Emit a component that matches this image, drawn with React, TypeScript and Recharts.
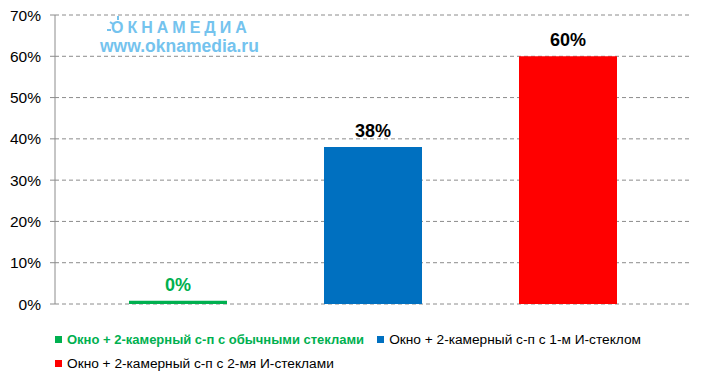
import { BarChart, Bar, XAxis, YAxis, CartesianGrid, LabelList } from "recharts";

const SERIES_NAMES = [
  "Окно + 2-камерный с-п с обычными стеклами",
  "Окно + 2-камерный с-п с 1-м И-стеклом",
  "Окно + 2-камерный с-п с 2-мя И-стеклами",
];
const SERIES_VALUES = [0.8, 38, 60];
const SERIES_LABELS = ["0%", "38%", "60%"];
const SERIES_COLORS = ["#00b050", "#0070c0", "#ff0000"];
const LABEL_COLORS = ["#00b050", "#000000", "#000000"];
const Y_TICKS = [0, 10, 20, 30, 40, 50, 60, 70];

const data = [
  SERIES_VALUES.reduce<Record<string, number | string>>(
    (row, v, i) => ({ ...row, [`s${i}`]: v }),
    { name: "" }
  ),
];

const FONT = "'Liberation Sans', Arial, sans-serif";
const WM = "#74c3ee";

function LegendItem({ i }: { i: number }) {
  return (
    <div style={{ display: "flex", alignItems: "center" }}>
      <span
        style={{
          width: 7,
          height: 7,
          background: SERIES_COLORS[i],
          marginRight: 5,
          display: "inline-block",
        }}
      />
      <span
        style={{
          fontSize: i === 0 ? 13 : 13.7,
          color: i === 0 ? "#00b050" : "#000",
          fontWeight: i === 0 ? "bold" : "normal",
          whiteSpace: "nowrap",
        }}
      >
        {SERIES_NAMES[i]}
      </span>
    </div>
  );
}

export default function App() {
  return (
    <div
      style={{
        position: "absolute",
        left: 0,
        top: 0,
        width: 704,
        height: 378,
        background: "#fff",
        fontFamily: FONT,
      }}
    >
      <BarChart
        width={704}
        height={378}
        data={data}
        margin={{ top: 15, right: 14, bottom: 74, left: 0 }}
        barSize={98}
        barGap={97}
      >
        <CartesianGrid
          horizontal
          vertical={false}
          stroke="#8c8c8c"
          strokeDasharray="4 3"
        />
        <XAxis dataKey="name" hide />
        <YAxis
          domain={[0, 70]}
          ticks={Y_TICKS}
          width={55}
          tickFormatter={(v) => `${v}%`}
          tick={{ fontSize: 15.5, fill: "#000", fontFamily: FONT }}
          tickSize={5}
          tickMargin={9}
          tickLine={{ stroke: "#8c8c8c" }}
          axisLine={{ stroke: "#8c8c8c" }}
          interval={0}
        />
        {SERIES_VALUES.map((_, i) => (
          <Bar
            key={i}
            dataKey={`s${i}`}
            name={SERIES_NAMES[i]}
            fill={SERIES_COLORS[i]}
            isAnimationActive={false}
          >
            <LabelList
              dataKey={`s${i}`}
              position="top"
              offset={10}
              formatter={() => SERIES_LABELS[i]}
              style={{
                fontSize: 18,
                fontWeight: "bold",
                fill: LABEL_COLORS[i],
                fontFamily: FONT,
              }}
            />
          </Bar>
        ))}
      </BarChart>

      {/* watermark */}
      <svg
        width={20}
        height={20}
        style={{ position: "absolute", left: 104, top: 14 }}
      >
        <line x1={3} y1={16} x2={7} y2={16} stroke={WM} strokeWidth={2} />
        <line x1={6} y1={8} x2={9} y2={10} stroke={WM} strokeWidth={2} />
        <line x1={14} y1={2} x2={14} y2={6} stroke={WM} strokeWidth={2} />
      </svg>
      <div
        style={{
          position: "absolute",
          left: 111,
          top: 20,
          color: WM,
          fontWeight: "bold",
          lineHeight: 1,
          fontSize: 16,
          letterSpacing: 4,
          whiteSpace: "nowrap",
        }}
      >
        ОКНАМЕДИА
      </div>
      <div
        style={{
          position: "absolute",
          left: 100,
          top: 38,
          color: WM,
          fontWeight: "bold",
          lineHeight: 1,
          fontSize: 17.5,
          whiteSpace: "nowrap",
        }}
      >
        www.oknamedia.ru
      </div>

      {/* legend */}
      <div style={{ position: "absolute", left: 55, top: 332 }}>
        <div style={{ display: "flex", gap: 13 }}>
          <LegendItem i={0} />
          <LegendItem i={1} />
        </div>
        <div style={{ display: "flex", marginTop: 9 }}>
          <LegendItem i={2} />
        </div>
      </div>
    </div>
  );
}
